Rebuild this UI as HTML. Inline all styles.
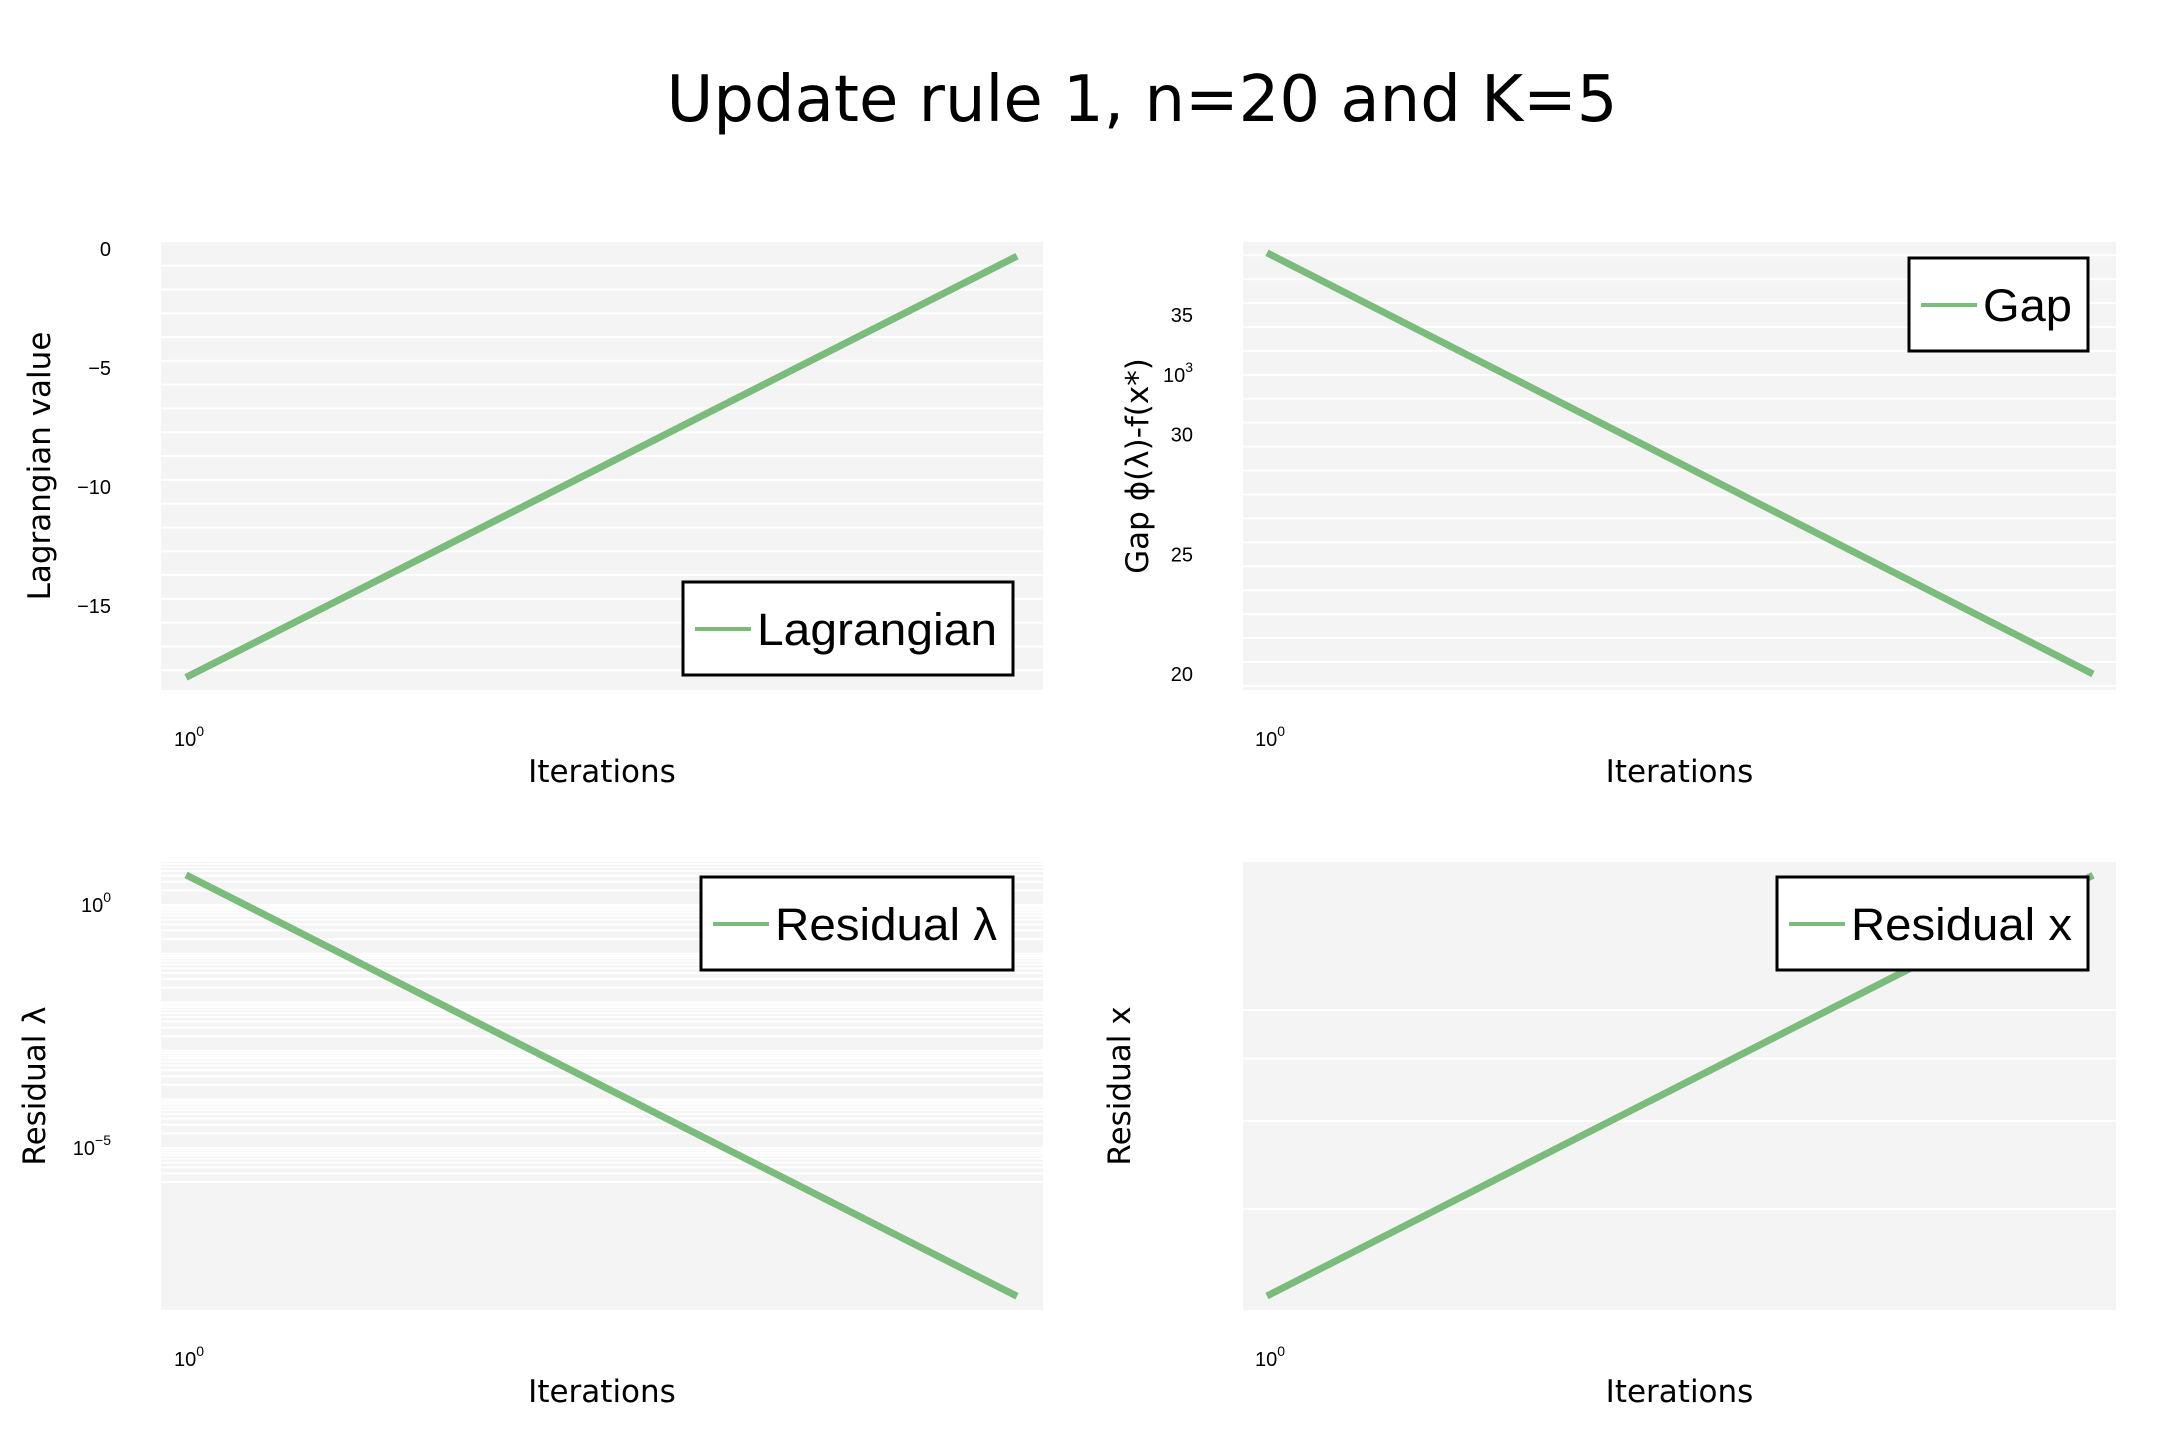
<!DOCTYPE html>
<html><head><meta charset="utf-8">
<style>
html,body{margin:0;padding:0;background:#fff;}
svg{display:block;}
.tick{font-family:"Liberation Sans Narrow","Liberation Sans",sans-serif;font-size:20px;fill:#000;}
.atitle{font-family:"DejaVu Sans","Liberation Sans",sans-serif;font-size:31px;fill:#000;}
.leg{font-family:"Liberation Sans Narrow","Liberation Sans",sans-serif;font-size:45px;fill:#000;}
</style></head>
<body>
<svg id="chart" width="2160" height="1440" viewBox="0 0 2160 1440" xmlns="http://www.w3.org/2000/svg">
<text x="1142" y="121" text-anchor="middle" font-family="DejaVu Sans, Liberation Sans, sans-serif" font-size="64">Update rule 1, n=20 and K=5</text>
</svg>
<script>
// Data per panel
const iterations = [1, 2];
const lagrangianValues = [-18.0, -0.3];
const lagrangianTicks = [0, -5, -10, -15];
const gapValues = [37.6, 20.0];
const gapTicks = [35, 30, 25, 20];
const residualLambdaLog = [0.62, -8.05];
const residualLambdaTicks = [0, -5];
const residualXValues = [1.34, 9.3];
const residualXGrid = [2, 3, 4, 5];

const NS = "http://www.w3.org/2000/svg";
const svg = document.getElementById('chart');
function mk(tag, attrs, parent) {
  const e = document.createElementNS(NS, tag);
  for (const k in attrs) e.setAttribute(k, attrs[k]);
  (parent || svg).appendChild(e);
  return e;
}
const GREEN = '#7bbb7b';

function panel(p) {
  const g = mk('g', {});
  
  
  const bg = mk('rect', {x: p.x0, y: p.y0, width: p.x1 - p.x0, height: p.y1 - p.y0, fill: '#f4f4f4'}, g);
  
  
  p.grid.forEach(v => {
    const y = p.ys(v);
    if (y < p.y0 || y > p.y1) return;
    const l = mk('line', {x1: p.x0, x2: p.x1, y1: y, y2: y, stroke: '#fff', 'stroke-width': 2}, g);
    
    
  });
  p.ticks.forEach(t => {
    const tx = mk('text', {x: p.x0 - 50, y: p.ys(t.v) + 7, 'text-anchor': 'end', class: 'tick'}, g);
    
    
    if (t.sup !== undefined) {
      tx.textContent = '10';
      const s = mk('tspan', {dy: -10, 'font-size': 14}, tx);
      s.textContent = t.sup;
    } else tx.textContent = t.label;
  });
  const xt = mk('text', {x: p.xs(1) - 12, y: p.y1 + 56, 'text-anchor': 'start', class: 'tick'}, g);
  
  
  xt.textContent = '10';
  const xs = mk('tspan', {dy: -10, 'font-size': 14}, xt);
  xs.textContent = '0';
  const pts = iterations.map((it, i) => p.xs(it) + ',' + p.ys(p.values[i])).join(' ');
  const pl = mk('polyline', {points: pts, fill: 'none', stroke: GREEN, 'stroke-width': 7}, g);
  
  
  const xtitle = mk('text', {x: (p.x0 + p.x1) / 2, y: p.y1 + 92, 'text-anchor': 'middle', class: 'atitle'}, g);
  
  
  xtitle.textContent = 'Iterations';
  const cy = (p.y0 + p.y1) / 2;
  const ytitle = mk('text', {x: p.ytx, y: cy, 'text-anchor': 'middle', class: 'atitle', transform: 'rotate(-90 ' + p.ytx + ' ' + cy + ')'}, g);
  
  
  ytitle.textContent = p.ytitle;
  const lg = mk('g', {}, g);
  
  
  mk('rect', {x: p.lx, y: p.ly, width: p.lw, height: 93, fill: '#fff', stroke: '#000', 'stroke-width': 3}, lg);
  const ll = mk('line', {x1: p.lx + 12, x2: p.lx + 68, y1: p.ly + 47, y2: p.ly + 47, stroke: GREEN, 'stroke-width': 4}, lg);
  
  
  const lt = mk('text', {x: p.lx + 74, y: p.ly + 63, class: 'leg', textLength: p.lw - 90, lengthAdjust: 'spacingAndGlyphs'}, lg);
  
  
  lt.textContent = p.legend;
}

function xsFor(xa, xb) { return it => xa + (it - iterations[0]) / (iterations[1] - iterations[0]) * (xb - xa); }
function range(a, b) { const r = []; for (let v = a; v <= b; v++) r.push(v); return r; }

panel({name: 'lagrangian-panel', x0: 161, x1: 1043, y0: 242, y1: 690,
  xs: xsFor(186, 1017), ys: v => 249 - v * 23.8, values: lagrangianValues,
  grid: range(-19, 0).map(v => v + 0.3),
  ticks: lagrangianTicks.map(v => ({v: v, label: v === 0 ? '0' : '\u2212' + Math.abs(v)})),
  ytx: 50, ytitle: 'Lagrangian value', lx: 683, ly: 582, lw: 330, legend: 'Lagrangian'});

panel({name: 'gap-panel', x0: 1243, x1: 2116, y0: 242, y1: 690,
  xs: xsFor(1267, 2093), ys: v => 315 + (35 - v) * 23.93, values: gapValues,
  grid: range(18, 40).map(v => v + 0.5),
  ticks: gapTicks.map(v => ({v: v, label: String(v)})).concat([{v: 32.5, sup: '3'}]),
  ytx: 1148, ytitle: 'Gap \u03d5(\u03bb)-f(x*)', lx: 1909, ly: 258, lw: 179, legend: 'Gap'});

const lamGrid = [];
for (let d = -7; d <= 1; d++) for (let m = 1; m <= 9; m++) lamGrid.push(d + Math.log10(m));
panel({name: 'residual-lambda-panel', x0: 161, x1: 1043, y0: 862, y1: 1310,
  xs: xsFor(186, 1017), ys: v => 905 - v * 48.6, values: residualLambdaLog,
  grid: lamGrid.filter(v => v > -5.9),
  ticks: residualLambdaTicks.map(v => ({v: v, sup: v === 0 ? '0' : '\u2212' + Math.abs(v)})),
  ytx: 45, ytitle: 'Residual \u03bb', lx: 701, ly: 877, lw: 312, legend: 'Residual \u03bb'});

panel({name: 'residual-x-panel', x0: 1243, x1: 2116, y0: 862, y1: 1310,
  xs: xsFor(1267, 2093), ys: v => 1209 - (Math.log10(v) - Math.log10(2)) * 500, values: residualXValues,
  grid: residualXGrid, ticks: [],
  ytx: 1130, ytitle: 'Residual x', lx: 1777, ly: 877, lw: 311, legend: 'Residual x'});
</script>
</body></html>
